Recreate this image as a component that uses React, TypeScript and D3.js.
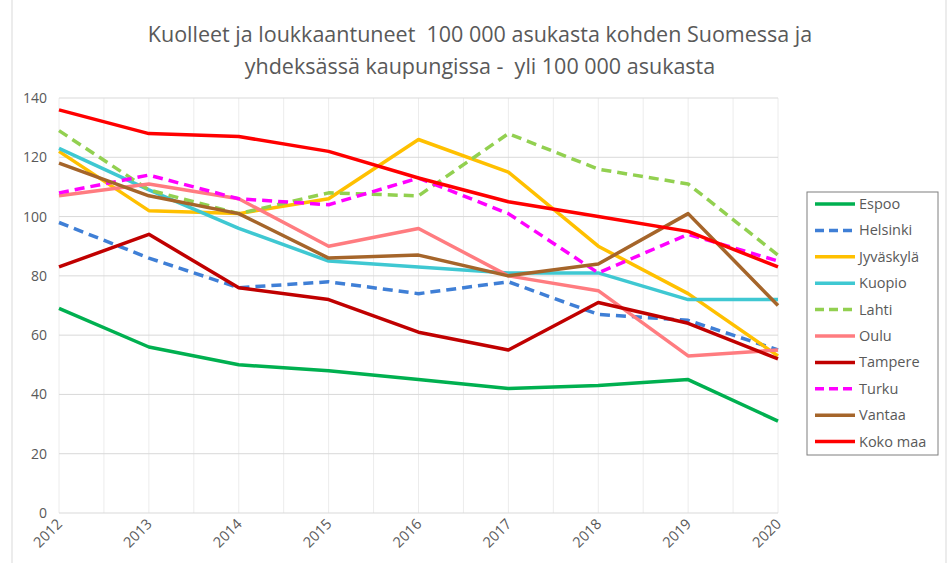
import React from 'react';
import * as d3 from 'd3';

const years = ['2012', '2013', '2014', '2015', '2016', '2017', '2018', '2019', '2020'];

const espoo = [69, 56, 50, 48, 45, 42, 43, 45, 31];
const helsinki = [98, 86, 76, 78, 74, 78, 67, 65, 55];
const jyvaskyla = [122, 102, 101, 106, 126, 115, 90, 74, 53];
const kuopio = [123, 109, 96, 85, 83, 81, 81, 72, 72];
const lahti = [129, 109, 101, 108, 107, 128, 116, 111, 87];
const oulu = [107, 111, 106, 90, 96, 80, 75, 53, 55];
const tampere = [83, 94, 76, 72, 61, 55, 71, 64, 52];
const turku = [108, 114, 106, 104, 113, 101, 81, 94, 85];
const vantaa = [118, 107, 101, 86, 87, 80, 84, 101, 70];
const kokoMaa = [136, 128, 127, 122, 113, 105, 100, 95, 83];

const yTicks = [0, 20, 40, 60, 80, 100, 120, 140];

const series = [
  { name: 'Espoo', values: espoo, color: '#00b050', dash: false },
  { name: 'Helsinki', values: helsinki, color: '#3f7fd6', dash: true },
  { name: 'Jyväskylä', values: jyvaskyla, color: '#ffc000', dash: false },
  { name: 'Kuopio', values: kuopio, color: '#3fc8d2', dash: false },
  { name: 'Lahti', values: lahti, color: '#92d050', dash: true },
  { name: 'Oulu', values: oulu, color: '#ff7c80', dash: false },
  { name: 'Tampere', values: tampere, color: '#c00000', dash: false },
  { name: 'Turku', values: turku, color: '#ff00ff', dash: true },
  { name: 'Vantaa', values: vantaa, color: '#a5652a', dash: false },
  { name: 'Koko maa', values: kokoMaa, color: '#ff0000', dash: false },
];

const W = 950;
const H = 563;
const margin = { left: 59, right: 172, top: 98, bottom: 50 };
const font = "'Open Sans', sans-serif";
const textColor = '#595959';

export default function App() {
  const x = d3.scalePoint<string>().domain(years).range([margin.left, W - margin.right]);
  const y = d3.scaleLinear().domain([0, 140]).range([H - margin.bottom, margin.top]);
  const step = x.step();

  const line = d3
    .line<number>()
    .x((_, i) => x(years[i]) as number)
    .y((d) => y(d));

  // vertical gridlines at each year and halfway between
  const vLines: number[] = [];
  years.forEach((yr, i) => {
    vLines.push(x(yr) as number);
    if (i < years.length - 1) vLines.push((x(yr) as number) + step / 2);
  });

  const legendX = 807;
  const legendY = 192;
  const rowH = 26.4;

  return (
    <svg width={W} height={H} style={{ position: 'absolute', left: 0, top: 0, background: '#fff' }}>
      <rect x={0} y={0} width={W} height={H} fill="#fff" />
      <line x1={12} x2={12} y1={0} y2={H} stroke="#d9d9d9" strokeWidth={1} />
      <line x1={946} x2={946} y1={0} y2={H} stroke="#d9d9d9" strokeWidth={1} />

      <text x={480} y={42} textAnchor="middle" fontFamily={font} fontSize={21.5} fill={textColor} style={{ whiteSpace: 'pre' }}>
        {'Kuolleet ja loukkaantuneet  100 000 asukasta kohden Suomessa ja'}
      </text>
      <text x={480} y={74} textAnchor="middle" fontFamily={font} fontSize={21.5} fill={textColor} style={{ whiteSpace: 'pre' }}>
        {'yhdeksässä kaupungissa -  yli 100 000 asukasta'}
      </text>

      {vLines.map((vx, i) => (
        <line key={'v' + i} x1={vx} x2={vx} y1={y(140)} y2={y(0)} stroke="#ececec" strokeWidth={1} />
      ))}
      {yTicks.map((t) => (
        <g key={'h' + t}>
          <line x1={margin.left} x2={W - margin.right} y1={y(t)} y2={y(t)} stroke="#d9d9d9" strokeWidth={1} />
          <text x={47} y={y(t) + 5} textAnchor="end" fontFamily={font} fontSize={14} fill={textColor}>
            {t}
          </text>
        </g>
      ))}

      {years.map((yr) => (
        <text
          key={yr}
          transform={`translate(${(x(yr) as number) + 4},${y(0) + 12}) rotate(-45)`}
          textAnchor="end"
          fontFamily={font}
          fontSize={14.5}
          fill={textColor}
        >
          {yr}
        </text>
      ))}

      {series.map((s) => (
        <path
          key={s.name}
          d={line(s.values) || ''}
          fill="none"
          stroke={s.color}
          strokeWidth={3.5}
          strokeDasharray={s.dash ? '10 6' : undefined}
          strokeLinejoin="round"
        />
      ))}

      <rect x={legendX} y={legendY} width={131} height={263} fill="#fff" stroke="#7f7f7f" strokeWidth={1} />
      {series.map((s, i) => {
        const ly = legendY + 12 + i * rowH;
        return (
          <g key={'l' + s.name}>
            <line
              x1={legendX + 8}
              x2={legendX + 48}
              y1={ly}
              y2={ly}
              stroke={s.color}
              strokeWidth={3.5}
              strokeDasharray={s.dash ? '9 5' : undefined}
            />
            <text x={legendX + 52} y={ly + 5} fontFamily={font} fontSize={14.5} fill={textColor}>
              {s.name}
            </text>
          </g>
        );
      })}
    </svg>
  );
}
